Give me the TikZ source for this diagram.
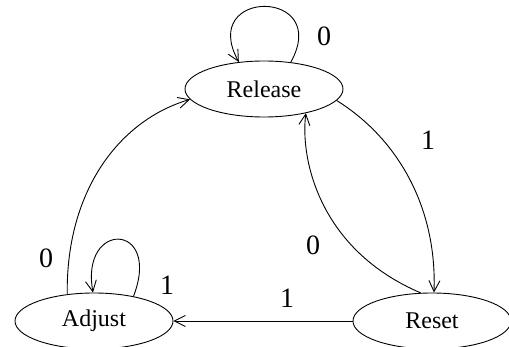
\documentclass[tikz,border=0pt]{standalone}
\usepackage{fontspec}
\setmainfont{Liberation Serif}
\usetikzlibrary{arrows.meta,shapes.geometric}
\begin{document}
\begin{tikzpicture}[x=1pt,y=-1pt,
  state/.style={draw,ellipse,line width=0.9pt,minimum width=158pt,minimum height=56pt,
    inner sep=0pt,font=\fontsize{24}{24}\selectfont},
  trans/.style={line width=0.9pt,-{Straight Barb[length=11pt,width=11pt,line width=0.9pt]}},
  lbl/.style={font=\fontsize{28}{28}\selectfont,inner sep=0pt}]
\useasboundingbox (0,0) rectangle (509,347);
% states
\node[state] (rel) at (264,89) {Release};
\node[state] (adj) at (94,321) {Adjust};
\node[state] (res) at (432,321) {Reset};
% transitions
\draw[trans] (rel.45) .. controls (332,-12) and (198,-12) .. (rel.133);
\draw[trans] (adj.32) .. controls (162,222) and (80,220) .. (adj.92);
\draw[trans] (adj.135) .. controls (66,190) and (120,120) .. (rel.188);
\draw[trans] (rel.-9) .. controls (400,140) and (437,210) .. (res.86);
\draw[trans] (res.112) .. controls (320,250) and (300,160) .. (rel.-30);
\draw[trans] (res.west) -- (adj.east);
% labels
\node[lbl] (l1) at (324,36) {0};
\node[lbl] (l2) at (167,285) {1};
\node[lbl] (l3) at (46,258) {0};
\node[lbl] (l4) at (428,140) {1};
\node[lbl] (l5) at (313,245) {0};
\node[lbl] (l6) at (287,298) {1};
\end{tikzpicture}
\end{document}
